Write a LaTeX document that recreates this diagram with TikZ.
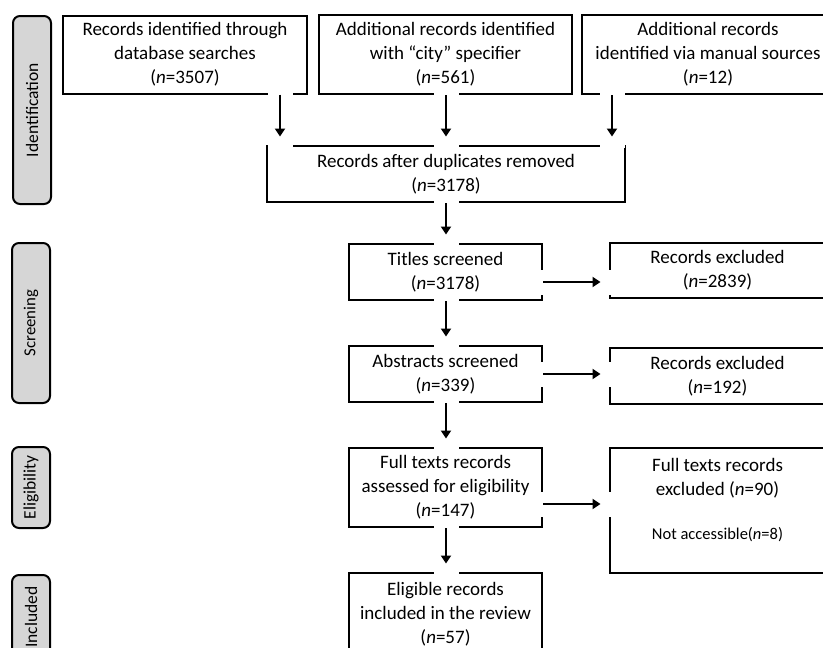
\documentclass[tikz,border=0pt]{standalone}
\usepackage{fontspec}
\setmainfont{Carlito}
\usetikzlibrary{arrows.meta}
\definecolor{phasegray}{HTML}{D6D6D6}
\tikzset{
  box/.style={draw, line width=2pt, align=center, inner sep=0pt,
    font=\fontsize{19}{24}\selectfont},
  phase/.style={draw, line width=2pt, fill=phasegray, rounded corners=7pt,
    rotate=90, inner sep=0pt, minimum height=38pt,
    font=\fontsize{17.5}{20}\selectfont},
  gapband/.style={draw=white, line width=25pt},
  flow/.style={line width=2pt, -{Triangle[length=8pt,width=10pt]}, shorten >=8.5pt},
}
\begin{document}
\begin{tikzpicture}[x=1pt,y=-1pt]
\useasboundingbox (0,0) rectangle (823,648);
\clip (0,0) rectangle (823,648);

% phase labels
\node[phase, minimum width=188pt] (pid) at (32,110) {Identification};
\node[phase, minimum width=160pt, font=\fontsize{16.8}{19}\selectfont] (psc) at (31,323) {Screening};
\node[phase, minimum width=81pt] (pel) at (31,487.5) {Eligibility};
\node[phase, minimum width=84pt] (pin) at (31,617) {Included};

% boxes
\node[box, minimum width=244pt, minimum height=78pt] (b1) at (185,54.5)
  {Records identified through\\database searches\\(\textit{n}=3507)};
\node[box, minimum width=253pt, minimum height=79pt] (b2) at (445.5,54.5)
  {Additional records identified\\with “city” specifier\\(\textit{n}=561)};
\node[box, minimum width=252pt, minimum height=79pt] (b3) at (708,54.5)
  {Additional records\\identified via manual sources\\(\textit{n}=12)};
\node[box, minimum width=358pt, minimum height=56pt] (dup) at (446,174)
  {Records after duplicates removed\\(\textit{n}=3178)};
\node[box, minimum width=193pt, minimum height=56pt] (tit) at (445.5,272)
  {Titles screened\\(\textit{n}=3178)};
\node[box, minimum width=193pt, minimum height=56pt] (abs) at (445.5,374)
  {Abstracts screened\\(\textit{n}=339)};
\node[box, minimum width=193pt, minimum height=79pt] (full) at (445.5,487.5)
  {Full texts records\\assessed for eligibility\\(\textit{n}=147)};
\node[box, minimum width=193pt, minimum height=82pt] (elig) at (445.5,614)
  {Eligible records\\included in the review\\(\textit{n}=57)};
\node[box, minimum width=215pt, minimum height=55pt] (ex1) at (717.5,270.5)
  {Records excluded\\(\textit{n}=2839)};
\node[box, minimum width=215pt, minimum height=56pt] (ex2) at (717.5,376)
  {Records excluded\\(\textit{n}=192)};
\node[box, minimum width=215pt, minimum height=125pt] (ex3) at (717.5,510.5)
  {Full texts records\\excluded (\textit{n}=90)\\[20pt]{\fontsize{16.5}{20}\selectfont Not accessible(\textit{n}=8)}\\\mbox{}};

% arrow guide coordinates
\coordinate (xa) at (280,0);
\coordinate (xb) at (446,0);
\coordinate (xc) at (612,0);
\coordinate (ya) at (0,282);
\coordinate (yb) at (0,374);
\coordinate (yc) at (0,504);

\coordinate (s1) at (b1.south -| xa);  \coordinate (t1) at (dup.north -| xa);
\coordinate (s2) at (b2.south -| xb);  \coordinate (t2) at (dup.north -| xb);
\coordinate (s3) at (b3.south -| xc);  \coordinate (t3) at (dup.north -| xc);
\coordinate (s4) at (dup.south -| xb); \coordinate (t4) at (tit.north -| xb);
\coordinate (s5) at (tit.south -| xb); \coordinate (t5) at (abs.north -| xb);
\coordinate (s6) at (abs.south -| xb); \coordinate (t6) at (full.north -| xb);
\coordinate (s7) at (full.south -| xb); \coordinate (t7) at (elig.north -| xb);
\coordinate (h1) at (tit.east |- ya);  \coordinate (k1) at (ex1.west |- ya);
\coordinate (h2) at (abs.east |- yb);  \coordinate (k2) at (ex2.west |- yb);
\coordinate (h3) at (full.east |- yc); \coordinate (k3) at (ex3.west |- yc);

% white gaps behind connectors
\foreach \s/\t in {s1/t1,s2/t2,s3/t3,s4/t4,s5/t5,s6/t6,s7/t7}
  \draw[gapband] ([yshift=2.5pt]\s) -- ([yshift=-3pt]\t);
\foreach \s/\t in {h1/k1,h2/k2,h3/k3}
  \draw[gapband] ([xshift=-2.5pt]\s) -- ([xshift=3pt]\t);

% connectors
\foreach \s/\t in {s1/t1,s2/t2,s3/t3,s4/t4,s5/t5,s6/t6,s7/t7,h1/k1,h2/k2,h3/k3}
  \draw[flow] (\s) -- (\t);
\end{tikzpicture}
\end{document}
